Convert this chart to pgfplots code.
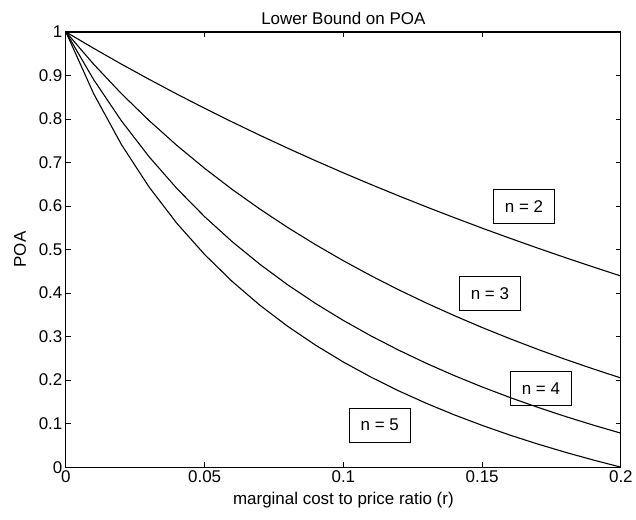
\documentclass[border=0pt]{standalone}
\usepackage{fontspec}
\setmainfont{Liberation Sans}
\usepackage{pgfplots}
\pgfplotsset{compat=1.18}

\begin{document}
\begin{tikzpicture}[font=\fontsize{17bp}{20bp}\selectfont]
% page frame: 636 x 520 bp, axis box 556 x 436 bp at (66,52) from lower left
\path (-66bp,-52bp) rectangle (570bp,468bp);
\begin{axis}[
    at={(0,0)}, anchor=south west,
    scale only axis,
    width=556bp, height=436bp,
    xmin=0, xmax=0.2,
    ymin=0, ymax=1,
    xtick={0,0.05,0.1,0.15,0.2},
    xticklabels={0,0.05,0.1,0.15,0.2},
    ytick={0,0.1,0.2,0.3,0.4,0.5,0.6,0.7,0.8,0.9,1},
    yticklabels={0,0.1,0.2,0.3,0.4,0.5,0.6,0.7,0.8,0.9,1},
    tick align=inside,
    major tick length=5bp,
    every tick/.style={black, line width=0.8bp},
    axis line style={line width=1.2bp},
    title={Lower Bound on POA},
    title style={yshift=-2bp},
    xlabel={marginal cost to price ratio (r)},
    xlabel style={yshift=-3bp},
    ylabel={POA},
    ylabel style={yshift=6bp},
    clip=false
]
% n = 2
\addplot[black, line width=1.1bp] coordinates {
    (0,1) (0.01,0.9624) (0.02,0.9261) (0.03,0.8911) (0.04,0.8572)
    (0.05,0.8246) (0.06,0.7929) (0.07,0.7623) (0.08,0.7327) (0.09,0.7040)
    (0.10,0.6762) (0.11,0.6493) (0.12,0.6232) (0.13,0.5978) (0.14,0.5732)
    (0.15,0.5492) (0.16,0.5260) (0.17,0.5034) (0.18,0.4814) (0.19,0.4600)
    (0.20,0.4392)
};
% n = 3
\addplot[black, line width=1.1bp] coordinates {
    (0,1) (0.01,0.9259) (0.02,0.8583) (0.03,0.7963) (0.04,0.7392)
    (0.05,0.6866) (0.06,0.6378) (0.07,0.5926) (0.08,0.5504) (0.09,0.5111)
    (0.10,0.4743) (0.11,0.4397) (0.12,0.4073) (0.13,0.3768) (0.14,0.3481)
    (0.15,0.3209) (0.16,0.2952) (0.17,0.2708) (0.18,0.2477) (0.19,0.2258)
    (0.20,0.2049)
};
% n = 4
\addplot[black, line width=1.1bp] coordinates {
    (0,1) (0.01,0.8905) (0.02,0.7958) (0.03,0.7131) (0.04,0.6402)
    (0.05,0.5755) (0.06,0.5177) (0.07,0.4657) (0.08,0.4187) (0.09,0.3760)
    (0.10,0.3371) (0.11,0.3014) (0.12,0.2686) (0.13,0.2383) (0.14,0.2103)
    (0.15,0.1843) (0.16,0.1601) (0.17,0.1376) (0.18,0.1165) (0.19,0.0967)
    (0.20,0.0781)
};
% n = 5
\addplot[black, line width=1.1bp] coordinates {
    (0,1) (0.01,0.8582) (0.02,0.7414) (0.03,0.6435) (0.04,0.5602)
    (0.05,0.4886) (0.06,0.4263) (0.07,0.3716) (0.08,0.3233) (0.09,0.2802)
    (0.10,0.2415) (0.11,0.2067) (0.12,0.1751) (0.13,0.1464) (0.14,0.1201)
    (0.15,0.0960) (0.16,0.0737) (0.17,0.0532) (0.18,0.0342) (0.19,0.0165)
    (0.20,0)
};
\tikzset{lbl/.style={draw, fill=white, line width=1bp, minimum width=61bp, minimum height=34bp, inner sep=0pt}}
\node[lbl] at (axis cs:0.1651,0.599) {n = 2};
\node[lbl] at (axis cs:0.1528,0.399) {n = 3};
\node[lbl, fill=none] at (axis cs:0.1712,0.181) {n = 4};
\node[lbl] at (axis cs:0.1131,0.0968) {n = 5};
\end{axis}
\end{tikzpicture}
\end{document}
